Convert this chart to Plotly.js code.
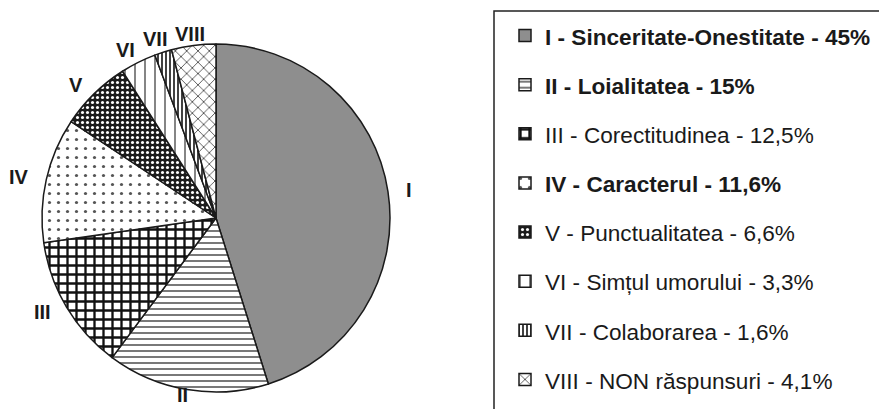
<!DOCTYPE html>
<html>
<head>
<meta charset="utf-8">
<script src="https://cdn.plot.ly/plotly-3.0.1.min.js"></script>
<style>
  html, body { margin: 0; padding: 0; background: #ffffff; }
  #chart { width: 879px; height: 409px; }
</style>
</head>
<body>
<div id="chart"></div>
<script>
// Slice data, in drawing order (clockwise from 12 o'clock)
const romans = ['I', 'II', 'III', 'IV', 'V', 'VI', 'VII', 'VIII'];
const names = [
  'Sinceritate-Onestitate',
  'Loialitatea',
  'Corectitudinea',
  'Caracterul',
  'Punctualitatea',
  'Simțul umorului',
  'Colaborarea',
  'NON răspunsuri',
];
const values = [45, 15, 12.5, 11.6, 6.6, 3.3, 1.6, 4.1];
const boldItems = [true, true, false, true, false, false, false, false];

const FONT = 'Arial, "Liberation Sans", sans-serif';
const W = 879, H = 409;

// Pie geometry (pixels)
const CX = 216, CY = 218, R = 174;

// Fill styles (black & white print look)
const fills = {
  colors:   ['#8e8e8e', '#ffffff', '#ffffff', '#ffffff', '#1c1c1c', '#ffffff', '#ffffff', '#ffffff'],
  shape:    ['',        '-',       '+',       '.',       '.',       '|',       '|',       'x'],
  fgcolor:  ['#8e8e8e', '#6a6a6a', '#111111', '#555555', '#ffffff', '#333333', '#111111', '#444444'],
  bgcolor:  ['#8e8e8e', '#ffffff', '#ffffff', '#ffffff', '#1c1c1c', '#ffffff', '#ffffff', '#ffffff'],
  size:     [8, 6, 9, 9, 5, 10, 4, 8],
  solidity: [0.3, 0.3, 0.45, 0.1, 0.3, 0.12, 0.4, 0.2],
};

// Legend entries: padded with blank lines so the rows are spaced out
const legendLabels = romans.map((r, i) => {
  const pct = String(values[i]).replace('.', ',');
  let txt = `${r} - ${names[i]} - ${pct}%`;
  if (boldItems[i]) txt = `<b>${txt}</b>`;
  return `\u00a0<br>\u00a0<br><span style="font-size:22.6px">${txt}</span><br>\u00a0`;
});

// Slice labels placed just outside the rim at each slice's mid angle
const total = values.reduce((a, b) => a + b, 0);
const charW = { I: 0.278, V: 0.667 };
let cum = 0;
const sliceLabels = romans.map((r, i) => {
  const theta = (cum + values[i] / 2) / total * 2 * Math.PI;
  cum += values[i];
  const s = Math.sin(theta), c = Math.cos(theta);
  const halfW = r.split('').reduce((a, ch) => a + charW[ch], 0) * 20 / 2;
  const halfH = 7;
  const pad = halfW * Math.abs(s) + halfH * Math.abs(c);
  const dx = (R + 17 + pad) * s;
  const dy = (R + (c > 0 ? 3 : -2) + pad) * c;
  return {
    text: `<b>${r}</b>`,
    x: (CX + dx) / W, y: 1 - (CY - dy) / H,
    xref: 'paper', yref: 'paper',
    xanchor: 'center', yanchor: 'middle',
    showarrow: false,
    font: { family: FONT, size: 20, color: '#1a1a1a' },
  };
});

const trace = {
  type: 'pie',
  labels: legendLabels,
  values: values,
  textinfo: 'none',
  sort: false,
  direction: 'clockwise',
  rotation: 0,
  hoverinfo: 'skip',
  domain: { x: [(CX - R) / W, (CX + R) / W], y: [1 - (CY + R) / H, 1 - (CY - R) / H] },
  marker: {
    colors: fills.colors,
    line: { color: '#1a1a1a', width: 1.5 },
    pattern: {
      shape: fills.shape,
      fgcolor: fills.fgcolor,
      bgcolor: fills.bgcolor,
      fillmode: 'replace',
      size: fills.size,
      solidity: fills.solidity,
    },
  },
};

const layout = {
  width: W,
  height: H,
  margin: { t: 0, r: 0, b: 0, l: 0 },
  paper_bgcolor: '#ffffff',
  font: { family: FONT, color: '#1a1a1a' },
  showlegend: true,
  legend: {
    x: 505 / W, xanchor: 'left',
    y: 1 - 12 / H, yanchor: 'top',
    bgcolor: 'rgba(0,0,0,0)',
    borderwidth: 0,
    font: { family: FONT, size: 8.87, color: '#1a1a1a' },
    traceorder: 'normal',
  },
  annotations: sliceLabels,
  shapes: [
    {
      type: 'rect', xref: 'paper', yref: 'paper',
      x0: 494 / W, x1: 1.05, y0: -0.05, y1: 1 - 11 / H,
      line: { color: '#222222', width: 1.5 },
    },
  ],
};

Plotly.newPlot('chart', [trace], layout, { displayModeBar: false, staticPlot: true });
</script>
</body>
</html>
